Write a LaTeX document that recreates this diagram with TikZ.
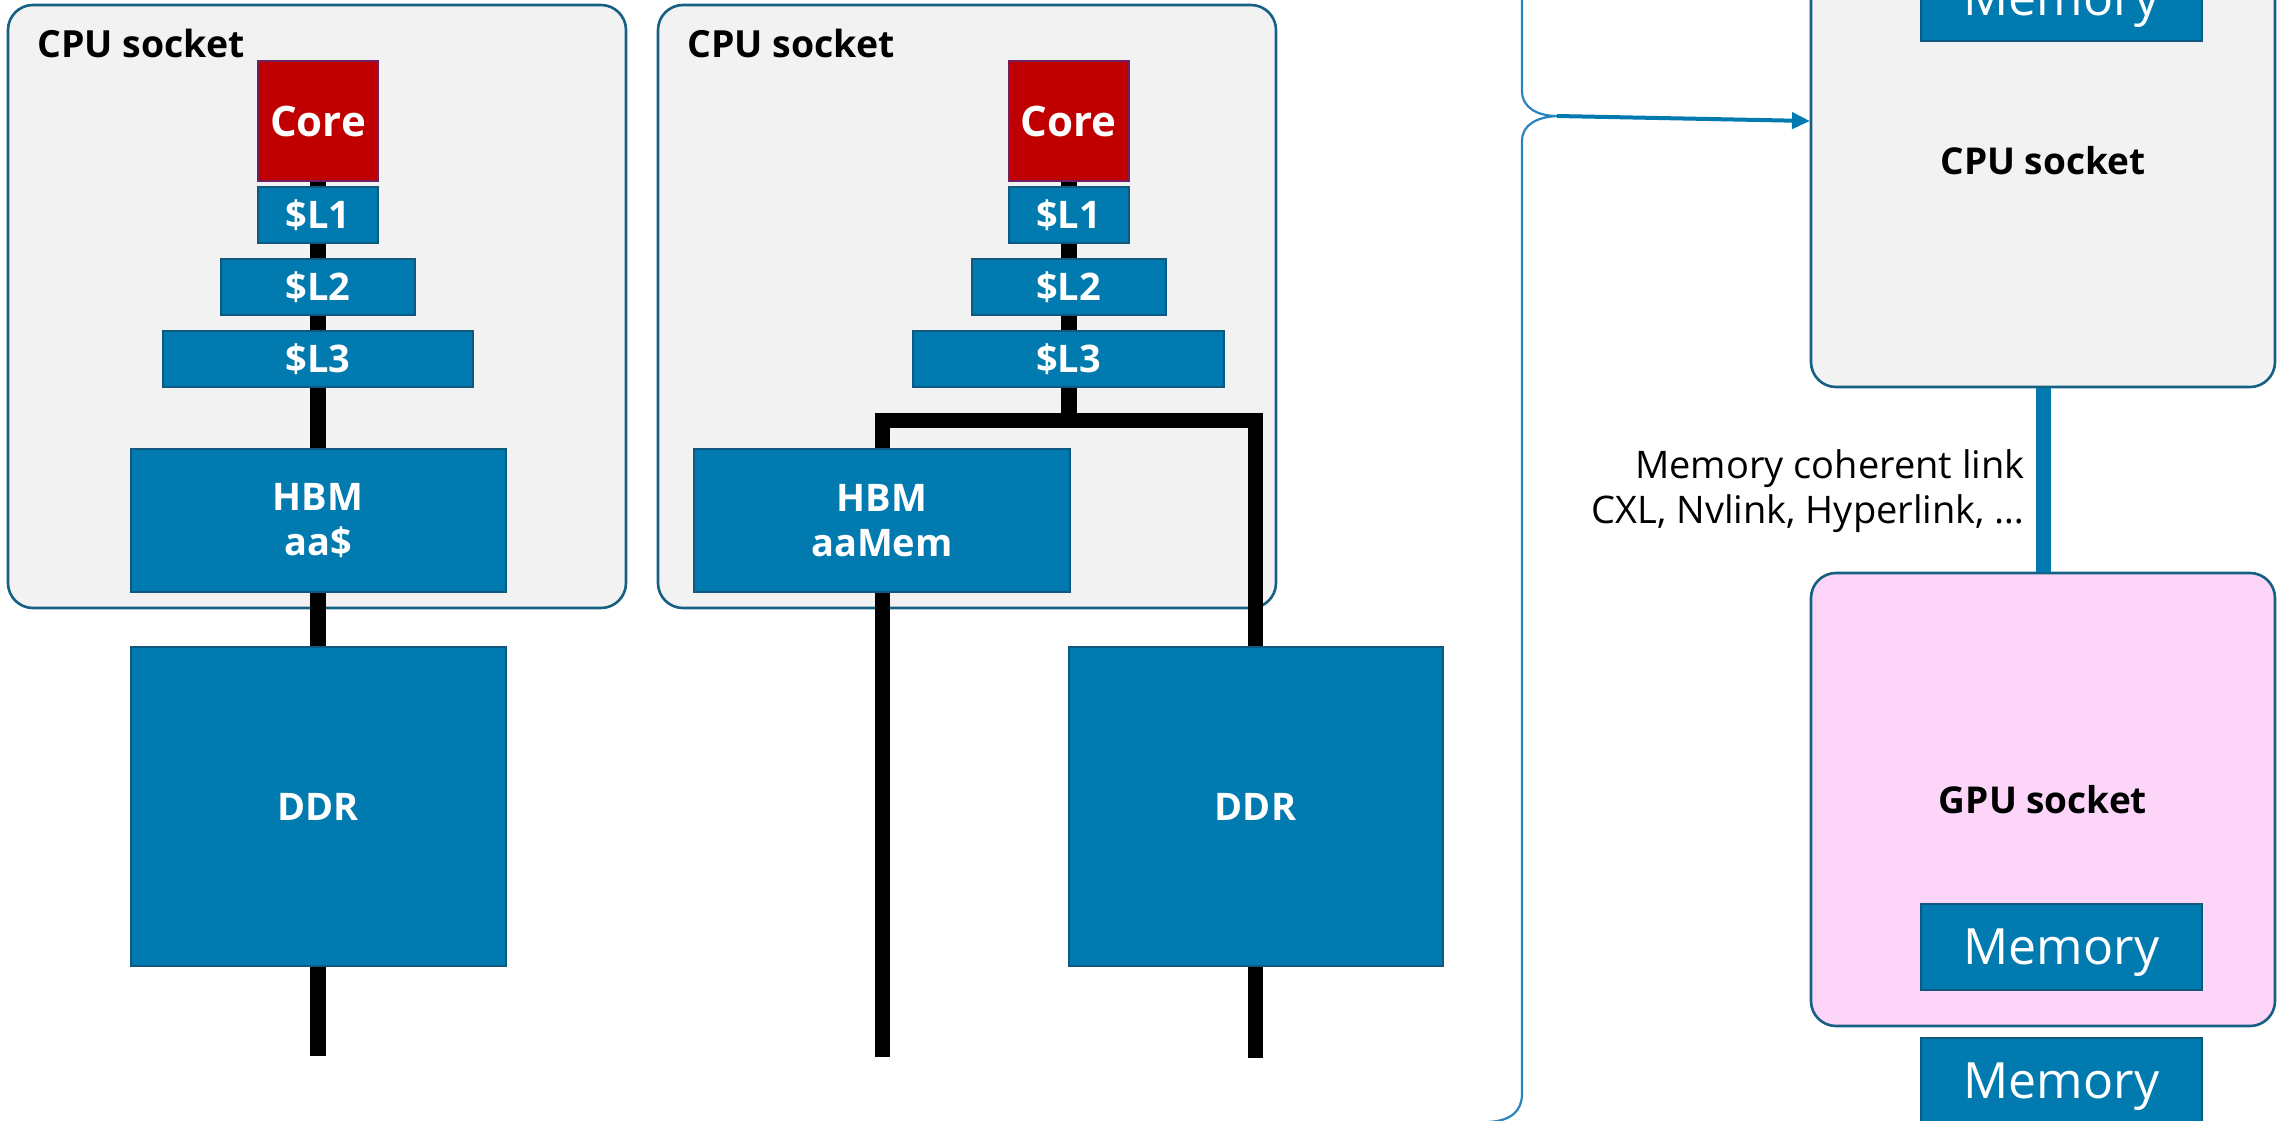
\documentclass[tikz,border=0pt]{standalone}
\usepackage{fontspec}
\setmainfont{Open Sans}
\usetikzlibrary{arrows.meta}

\definecolor{boxblue}{RGB}{0,122,175}
\definecolor{boxedge}{RGB}{16,88,126}
\definecolor{sockedge}{RGB}{22,96,132}
\definecolor{sockfill}{RGB}{242,242,242}
\definecolor{gpufill}{RGB}{252,213,248}
\definecolor{corered}{RGB}{192,0,0}
\definecolor{coreedge}{RGB}{112,32,96}
\definecolor{bracecol}{RGB}{40,132,190}

\pgfdeclarelayer{sock}
\pgfdeclarelayer{wire}
\pgfsetlayers{sock,wire,main}

\tikzset{
  sz/.style 2 args={minimum width=#1*0.5pt, minimum height=#2*0.5pt},
  socket/.style={draw=sockedge, line width=1.3pt, fill=sockfill, rounded corners=12.5pt, inner sep=0pt},
  gpusocket/.style={socket, fill=gpufill},
  blk/.style={draw=boxedge, line width=1pt, fill=boxblue, inner sep=0pt, text=white,
    font=\bfseries\fontsize{19pt}{22.25pt}\selectfont, align=center},
  corebox/.style={blk, draw=coreedge, fill=corered, font=\bfseries\fontsize{21pt}{25pt}\selectfont},
  membox/.style={blk, text depth=0pt, font=\fontsize{25pt}{30pt}\selectfont},
  socklabel/.style={inner sep=0pt, font=\bfseries\fontsize{18.7pt}{23pt}\selectfont},
  wirebk/.style={line width=8pt, black},
  busbk/.style={line width=7.5pt, black, line join=miter},
  linkbar/.style={line width=7.5pt, boxblue},
  bracestyle/.style={line width=1.1pt, bracecol},
  arrowln/.style={line width=2pt, boxblue, -{Triangle[length=9pt,width=8pt]}}
}

\begin{document}
\begin{tikzpicture}[x=0.5pt, y=-0.5pt]
\useasboundingbox (0,0) rectangle (2282,1120);
\clip (0,0) rectangle (2282,1120);

% ---------- first CPU socket: cache hierarchy with HBM as cache ----------
\begin{pgfonlayer}{sock}
  \node[socket, sz={618}{603}] (sockA) at (317,306.5) {};
  \node[socket, sz={618}{603}] (sockB) at (967,306.5) {};
\end{pgfonlayer}
\node[socklabel, anchor=base west] (labA) at (37,57) {CPU socket};
\node[corebox, sz={120}{120}] (coreA) at (318,121) {Core};
\node[blk, sz={120}{56}] (l1A) at (318,215) {\$L1};
\node[blk, sz={194}{56}] (l2A) at (318,287) {\$L2};
\node[blk, sz={310}{56}] (l3A) at (318,359) {\$L3};
\node[blk, sz={375}{143}] (hbmA) at (318,520.5) {HBM\\aa\$};
\node[blk, sz={375}{319}] (ddrA) at (318,806.5) {DDR};
\coordinate (endA) at (318,1056);
\begin{pgfonlayer}{wire}
  \draw[wirebk] (coreA.center) -- (endA);
\end{pgfonlayer}

% ---------- second CPU socket: HBM and DDR side by side ----------
\node[socklabel, anchor=base west] (labB) at (687,57) {CPU socket};
\node[corebox, sz={120}{120}] (coreB) at (1068.5,121) {Core};
\node[blk, sz={120}{56}] (l1B) at (1068.5,215) {\$L1};
\node[blk, sz={194}{56}] (l2B) at (1068.5,287) {\$L2};
\node[blk, sz={311}{56}] (l3B) at (1068.5,359) {\$L3};
\node[blk, sz={376}{143}] (hbmB) at (882,520.5) {HBM\\aaMem};
\node[blk, sz={374}{319}] (ddrB) at (1255.5,806.5) {DDR};
\coordinate (junB) at (1068.5,420.5);
\coordinate (endB1) at (882,1057);
\coordinate (endB2) at (1255.5,1058);
\begin{pgfonlayer}{wire}
  \draw[wirebk] (coreB.center) -- (junB);
  \draw[busbk] (endB1) |- (junB) -| (endB2);
\end{pgfonlayer}

% ---------- CPU + GPU system with coherent link ----------
\node[socket, sz={464}{453}] (cpuC) at (2043,160.5)
  {\bfseries\fontsize{18.5pt}{22pt}\selectfont CPU socket};
\node[membox, sz={281}{86}] (memC) at (2061.5,-2) {Memory};
\node[gpusocket, sz={464}{453}] (gpuC) at (2043,799.5)
  {\bfseries\fontsize{18.5pt}{22pt}\selectfont GPU socket};
\node[membox, sz={281}{86}] (memG) at (2061.5,947) {Memory};
\node[membox, sz={281}{86}] (memH) at (2061.5,1081) {Memory};
\draw[linkbar] (cpuC.south) -- (gpuC.north);
\node[anchor=east, inner sep=0pt, align=right, font=\fontsize{19pt}{22.8pt}\selectfont]
  (linktxt) at (2025,491) {Memory coherent link\\CXL, Nvlink, Hyperlink, …};

% curly brace grouping everything to the left, and its pointer
\coordinate (bt) at (1557,116);
\coordinate (ae) at (1810,121);
\draw[bracestyle] (1522,-40) -- (1522,91)
  .. controls (1522,108) and (1538,116) .. (bt)
  .. controls (1538,117) and (1522,124) .. (1522,141)
  -- (1522,1094) .. controls (1522,1110) and (1512,1121) .. (1488,1122);
\draw[arrowln] (bt) -- (ae);
\end{tikzpicture}
\end{document}
